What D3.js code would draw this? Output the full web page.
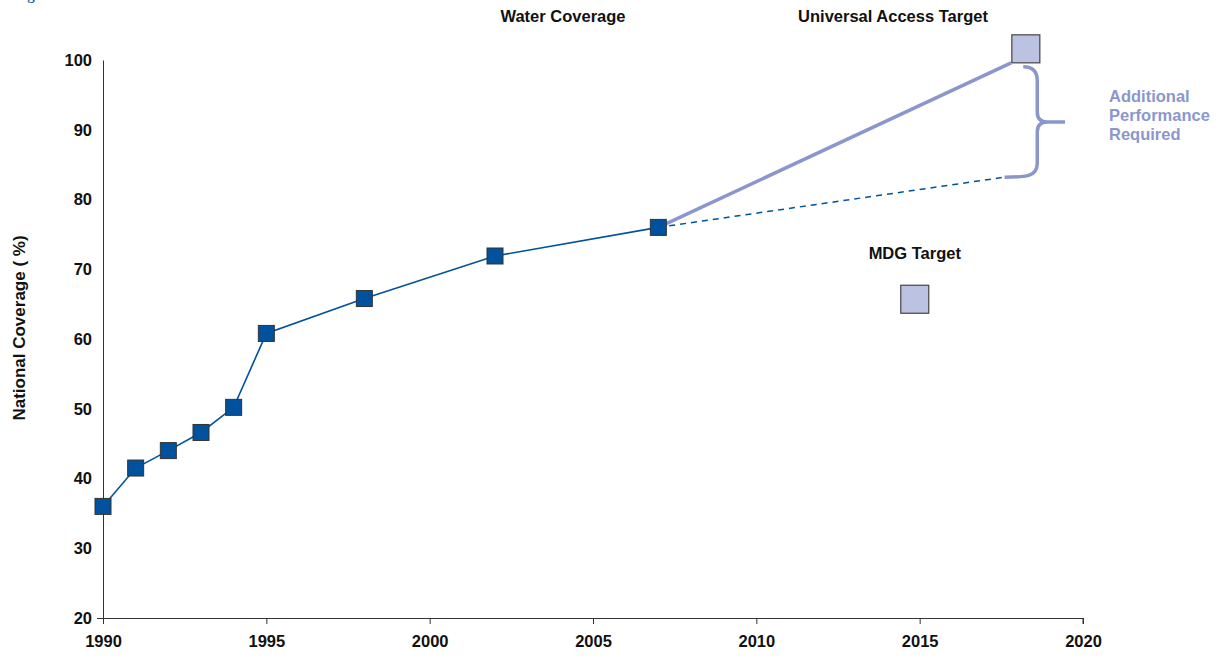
<!DOCTYPE html>
<html>
<head>
<meta charset="utf-8">
<script src="https://cdn.jsdelivr.net/npm/d3@7"></script>
<style>
  body { margin: 0; background: #fff; }
  svg { font-family: "Liberation Sans", Arial, sans-serif; font-weight: bold; }
</style>
</head>
<body>
<svg width="1219" height="658"></svg>
<script>
// observed coverage
const years = [1990, 1991, 1992, 1993, 1994, 1995, 1998, 2002, 2007];
const coverage = [36, 41.5, 44, 46.6, 50.2, 60.8, 65.8, 71.9, 76];

// projections and targets
const universalLine = [[2007, 76], [2017.8, 99.6]];
const trendLine = [[2007, 76], [2017.6, 83.2]];
const universalTarget = [2018.25, 101.6];
const mdgTarget = [2014.85, 65.7];

const xTicks = [1990, 1995, 2000, 2005, 2010, 2015, 2020];
const yTicks = [20, 30, 40, 50, 60, 70, 80, 90, 100];

const svg = d3.select('svg');

const x = d3.scaleLinear().domain([1990, 2020]).range([103, 1083]);
const y = d3.scaleLinear().domain([20, 100]).range([618, 60]);

const seriesBlue = '#00529f';
const targetBlue = '#8b97cc';
const fs = '16.5px';

// cropped caption at the top
svg.append('text')
  .attr('x', 14)
  .attr('y', 0)
  .attr('fill', '#1f63c0')
  .style('font-family', '"Liberation Serif", serif')
  .style('font-size', '15px')
  .text('Figure');

// x axis
const xAxis = d3.axisBottom(x)
  .tickValues(xTicks)
  .tickSize(6)
  .tickPadding(11)
  .tickFormat(d3.format('d'));
const gx = svg.append('g')
  .attr('transform', `translate(0, ${y(20)})`)
  .call(xAxis);
gx.select('.domain').attr('d', `M${x(1990) - 6},0.5H${x(2020)}V6`).attr('stroke', '#333');
gx.selectAll('.tick line').attr('stroke', '#333');
gx.selectAll('.tick text')
  .attr('fill', '#111')
  .style('font-size', fs)
  .style('font-weight', 'bold')
  .style('font-family', '"Liberation Sans", Arial, sans-serif');

// y axis
const yAxis = d3.axisLeft(y)
  .tickValues(yTicks)
  .tickSize(0)
  .tickPadding(11);
const gy = svg.append('g')
  .attr('transform', `translate(${x(1990)}, 0)`)
  .call(yAxis);
gy.select('.domain').attr('stroke', '#333');
gy.selectAll('.tick text')
  .attr('fill', '#111')
  .style('font-size', fs)
  .style('font-weight', 'bold')
  .style('font-family', '"Liberation Sans", Arial, sans-serif');

// y label
svg.append('text')
  .attr('transform', `translate(25, ${y(60) - 11}) rotate(-90)`)
  .attr('text-anchor', 'middle')
  .style('font-size', '17px')
  .attr('fill', '#111')
  .text('National Coverage ( %)');

// titles
svg.append('text')
  .attr('x', 563).attr('y', 22)
  .attr('text-anchor', 'middle')
  .style('font-size', fs)
  .attr('fill', '#111')
  .text('Water Coverage');

svg.append('text')
  .attr('x', 893).attr('y', 22)
  .attr('text-anchor', 'middle')
  .style('font-size', fs)
  .attr('fill', '#111')
  .text('Universal Access Target');

svg.append('text')
  .attr('x', x(mdgTarget[0])).attr('y', y(mdgTarget[1]) - 40)
  .attr('text-anchor', 'middle')
  .style('font-size', fs)
  .attr('fill', '#111')
  .text('MDG Target');

const line = d3.line().x(d => x(d[0])).y(d => y(d[1]));

// trend projection (dashed)
svg.append('path')
  .attr('d', line(trendLine))
  .attr('fill', 'none')
  .attr('stroke', seriesBlue)
  .attr('stroke-width', 1.5)
  .attr('stroke-dasharray', '6,5');

// universal access line
svg.append('path')
  .attr('d', line(universalLine))
  .attr('fill', 'none')
  .attr('stroke', targetBlue)
  .attr('stroke-width', 3.5);

// brace between the two projections
const bx = x(2018.6);
const tipX = x(2019.45);
const braceTop = y(universalLine[1][1]) + 4;
const braceBot = y(trendLine[1][1]);
const braceMid = (braceTop + braceBot) / 2;
const brace = `M${bx - 14},${braceTop} Q${bx},${braceTop} ${bx},${braceTop + 14}`
  + ` L${bx},${braceMid - 10} Q${bx},${braceMid} ${bx + 10},${braceMid} L${tipX},${braceMid}`
  + ` M${bx + 10},${braceMid} Q${bx},${braceMid} ${bx},${braceMid + 10}`
  + ` L${bx},${braceBot - 14} C${bx},${braceBot} ${bx - 12},${braceBot} ${x(trendLine[1][0])},${braceBot}`;
svg.append('path')
  .attr('d', brace)
  .attr('fill', 'none')
  .attr('stroke', targetBlue)
  .attr('stroke-width', 3.5);

svg.append('text')
  .attr('x', 1109)
  .attr('y', braceMid - 20)
  .attr('fill', targetBlue)
  .style('font-size', fs)
  .selectAll('tspan')
  .data(['Additional', 'Performance', 'Required'])
  .join('tspan')
  .attr('x', 1109)
  .attr('dy', (d, i) => i === 0 ? 0 : 19)
  .text(d => d);

// observed line and markers
const pts = years.map((yr, i) => [yr, coverage[i]]);
svg.append('path')
  .attr('d', line(pts))
  .attr('fill', 'none')
  .attr('stroke', seriesBlue)
  .attr('stroke-width', 1.6);

svg.append('g')
  .selectAll('rect')
  .data(pts)
  .join('rect')
  .attr('x', d => x(d[0]) - 8)
  .attr('y', d => y(d[1]) - 8)
  .attr('width', 16)
  .attr('height', 16)
  .attr('fill', seriesBlue)
  .attr('stroke', '#333')
  .attr('stroke-width', 1);

// target markers
svg.append('g')
  .selectAll('rect')
  .data([universalTarget, mdgTarget])
  .join('rect')
  .attr('x', d => x(d[0]) - 14)
  .attr('y', d => y(d[1]) - 14)
  .attr('width', 28)
  .attr('height', 28)
  .attr('fill', '#bcc2e1')
  .attr('stroke', '#444')
  .attr('stroke-width', 1.2);
</script>
</body>
</html>
